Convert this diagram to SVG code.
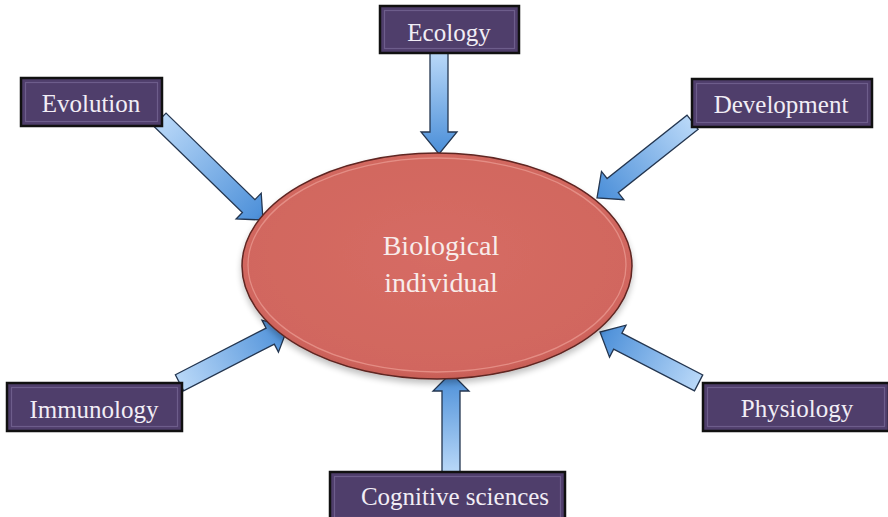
<svg xmlns="http://www.w3.org/2000/svg" width="888" height="517" viewBox="0 0 888 517">
  <defs>
    <linearGradient id="arrowGrad" x1="0" y1="0" x2="1" y2="0">
      <stop offset="0" stop-color="#b9d8f8"/>
      <stop offset="1" stop-color="#4a8ed8"/>
    </linearGradient>
    <radialGradient id="ellGrad" cx="0.5" cy="0.45" r="0.6">
      <stop offset="0" stop-color="#d66c64"/>
      <stop offset="0.85" stop-color="#d1665e"/>
      <stop offset="1" stop-color="#b9524b"/>
    </radialGradient>
    <filter id="shadow" x="-10%" y="-10%" width="120%" height="130%">
      <feGaussianBlur in="SourceAlpha" stdDeviation="3"/>
      <feOffset dx="0" dy="4" result="b"/>
      <feComponentTransfer><feFuncA type="linear" slope="0.25"/></feComponentTransfer>
      <feMerge><feMergeNode/><feMergeNode in="SourceGraphic"/></feMerge>
    </filter>
  </defs>
  <style>
    .box { fill: #4f3e6b; stroke: #111111; stroke-width: 2.5; }
    .bevel { fill: none; stroke: #6d5d8b; stroke-width: 1.2; }
    .label { font-family: "Liberation Serif", "DejaVu Serif", serif; font-size: 25px; fill: #f1edf5; text-anchor: middle; }
    .center { font-family: "Liberation Serif", "DejaVu Serif", serif; font-size: 28px; fill: #f8ecea; text-anchor: middle; }
    .arrow { fill: url(#arrowGrad); stroke: #243650; stroke-width: 1.3; stroke-linejoin: miter; }
  </style>

  <g id="connectors">
    <!-- Evolution -> center -->
    <path class="arrow" transform="translate(263,220) rotate(44.2)" d="M-144,-9 L-20,-9 L-20,-18 L0,0 L-20,18 L-20,9 L-144,9 Z"/>
    <!-- Ecology -> center -->
    <path class="arrow" transform="translate(439,154) rotate(90)" d="M-101,-9 L-22,-9 L-22,-18 L0,0 L-22,18 L-22,9 L-101,9 Z"/>
    <!-- Development -> center -->
    <path class="arrow" transform="translate(597,198) rotate(141.6)" d="M-122,-9 L-20,-9 L-20,-18 L0,0 L-20,18 L-20,9 L-122,9 Z"/>
    <!-- Immunology -> center -->
    <path class="arrow" transform="translate(288,327) rotate(-27.2)" d="M-122,-9 L-20,-9 L-20,-18 L0,0 L-20,18 L-20,9 L-122,9 Z"/>
    <!-- Physiology -> center -->
    <path class="arrow" transform="translate(600,332) rotate(-152.7)" d="M-111,-9 L-20,-9 L-20,-18 L0,0 L-20,18 L-20,9 L-111,9 Z"/>
    <!-- Cognitive sciences -> center -->
    <path class="arrow" transform="translate(451,373) rotate(-90)" d="M-99,-9 L-18,-9 L-18,-18 L0,0 L-18,18 L-18,9 L-99,9 Z"/>
  </g>

  <g id="biological-individual">
    <ellipse cx="437" cy="266" rx="195" ry="113" fill="url(#ellGrad)" stroke="#5e2521" stroke-width="1.5" filter="url(#shadow)"/>
    <ellipse cx="437" cy="265" rx="189" ry="107" fill="none" stroke="#e8978e" stroke-width="1.3" opacity="0.8"/>
    <text class="center" x="441" y="255">Biological</text>
    <text class="center" x="441" y="292">individual</text>
  </g>

  <g id="evolution">
    <rect class="box" x="21" y="78" width="141" height="48"/>
    <rect class="bevel" x="25.5" y="82.5" width="132" height="39"/>
    <text class="label" x="91" y="112">Evolution</text>
  </g>

  <g id="ecology">
    <rect class="box" x="380" y="6" width="139" height="47"/>
    <rect class="bevel" x="384.5" y="10.5" width="130" height="38"/>
    <text class="label" x="449" y="41">Ecology</text>
  </g>

  <g id="development">
    <rect class="box" x="692" y="79" width="180" height="48"/>
    <rect class="bevel" x="696.5" y="83.5" width="171" height="39"/>
    <text class="label" x="781" y="113">Development</text>
  </g>

  <g id="immunology">
    <rect class="box" x="7" y="383" width="175" height="48"/>
    <rect class="bevel" x="11.5" y="387.5" width="166" height="39"/>
    <text class="label" x="94" y="418">Immunology</text>
  </g>

  <g id="physiology">
    <rect class="box" x="703" y="383" width="186" height="48"/>
    <rect class="bevel" x="707.5" y="387.5" width="177" height="39"/>
    <text class="label" x="797" y="417">Physiology</text>
  </g>

  <g id="cognitive-sciences">
    <rect class="box" x="330" y="472" width="235" height="50"/>
    <rect class="bevel" x="334.5" y="476.5" width="226" height="41"/>
    <text class="label" x="455" y="505">Cognitive sciences</text>
  </g>
</svg>
